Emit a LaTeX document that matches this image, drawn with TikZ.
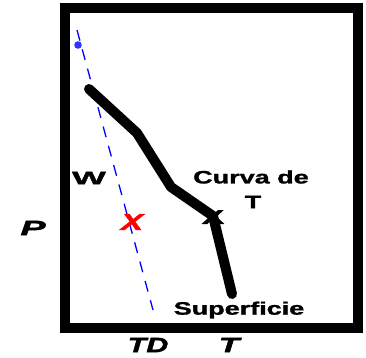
\documentclass[tikz,border=0pt]{standalone}
\usepackage{fontspec}
\setmainfont{Liberation Sans}[BoldFeatures={FakeBold=1.2},BoldItalicFeatures={FakeBold=1.5}]
\begin{document}
\begin{tikzpicture}[x=1pt,y=-1pt,
  lbl/.style={font=\bfseries\fontsize{18}{18}\selectfont, inner sep=0pt},
  axl/.style={font=\bfseries\itshape\fontsize{21}{21}\selectfont, inner sep=0pt},
  curve/.style={line width=10pt, line cap=round, line join=round},
  guide/.style={blue, line width=1.3pt, dash pattern=on 11pt off 9pt}]
\useasboundingbox (0,0) rectangle (366,357);
\draw[line width=10pt] (64.5,8) rectangle (358,328);
% blue dashed line
\coordinate (b1) at (77,30);
\coordinate (b2) at (153,310);
\draw[guide] (b1) -- (b2);
\fill[blue!80] (78,45) circle (3.8);
% thick curve
\coordinate (c1) at (89,89);
\coordinate (c2) at (137,133);
\coordinate (c3) at (171,187);
\coordinate (c4) at (213,216);
\coordinate (c5) at (232,294);
\draw[curve] (c1) -- (c2) -- (c3) -- (c4) -- (c5);
% labels
\node[lbl, font=\bfseries\fontsize{20}{20}\selectfont] (x1) at (213,217) {\scalebox{1.7}[1]{X}};
\node[lbl, red, font=\bfseries\itshape\fontsize{23}{23}\selectfont] (x2) at (132,222) {\scalebox{1.45}[1]{X}};
\node[lbl] (w) at (89,178) {\scalebox{2}[1]{W}};
\node[lbl] (cv) at (251,177) {\scalebox{1.5}[1]{Curva de}};
\node[lbl] (ct) at (253,202) {\scalebox{1.5}[1]{T}};
\node[lbl] (sup) at (239,310) {\scalebox{1.5}[1]{Superficie}};
\node[axl] (p) at (33,228) {\scalebox{1.8}[1]{P}};
\node[axl] (td) at (148,345) {\scalebox{1.45}[1]{TD}};
\node[axl] (t) at (229,345) {\scalebox{1.6}[1]{T}};
\end{tikzpicture}
\end{document}
